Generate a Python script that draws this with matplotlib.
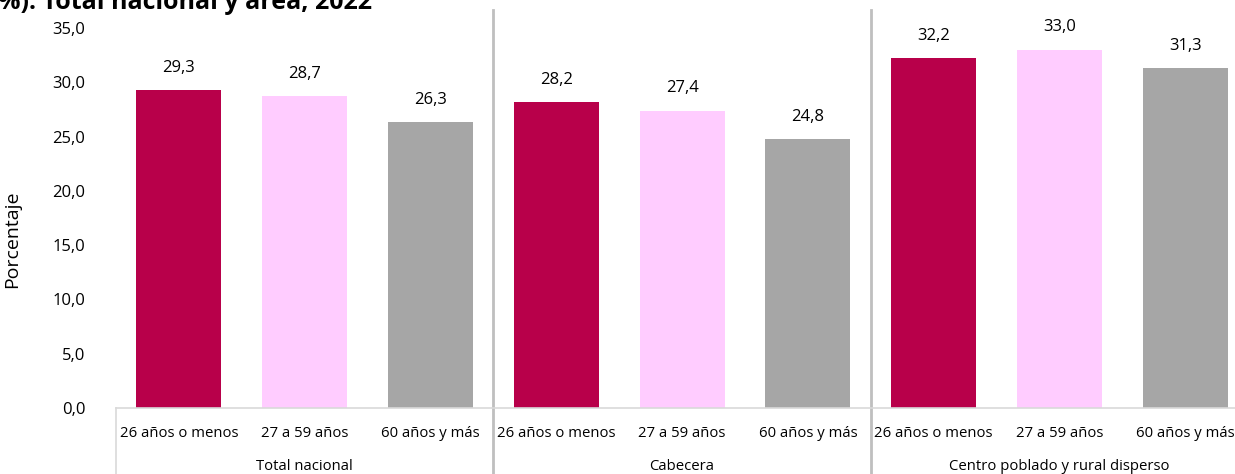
import numpy as np
import matplotlib.pyplot as plt
from matplotlib import transforms

plt.rcParams['font.family'] = ['Open Sans', 'DejaVu Sans']

# Data
groups = ['Total nacional', 'Cabecera', 'Centro poblado y rural disperso']
ages = ['26 años o menos', '27 a 59 años', '60 años y más']
total_nacional = [29.3, 28.7, 26.3]
cabecera = [28.2, 27.4, 24.8]
rural = [32.2, 33.0, 31.3]
colors = ['#B8004A', '#FFCCFF', '#A6A6A6']

values = total_nacional + cabecera + rural
labels = ages * 3
bar_colors = colors * 3

fig = plt.figure(figsize=(12.35, 4.74), dpi=100)
ax = fig.add_axes([116 / 1235, 66 / 474, 1119 / 1235, 380 / 474])

x = np.arange(len(values))
ax.bar(x, values, width=0.675, color=bar_colors)
for xi, v in zip(x, values):
    ax.annotate(f"{v:.1f}".replace('.', ','), (xi, v), xytext=(0, 16),
                textcoords='offset points', ha='center', va='center',
                fontsize=12, color='#000000')

ax.set_ylim(0, 35)
ax.set_xlim(-0.5, 8.395)
ax.set_yticks(np.arange(0, 36, 5))
ax.set_yticklabels([f"{t:.1f}".replace('.', ',') for t in np.arange(0, 36, 5)],
                   fontsize=12)
ax.set_xticks(x)
ax.set_xticklabels(labels, fontsize=10.7)
ax.tick_params(axis='both', length=0)
ax.tick_params(axis='y', pad=22)
ax.tick_params(axis='x', pad=13)

for s in ['top', 'right', 'left']:
    ax.spines[s].set_visible(False)
ax.spines['bottom'].set_color('#D9D9D9')
ax.spines['bottom'].set_linewidth(1.2)

ax.set_ylabel('Porcentaje', fontsize=14)
ax.yaxis.set_label_coords(-(116 - 21) / 1119, (408 - 239) / 380)

trans = transforms.blended_transform_factory(ax.transData, ax.transAxes)
# group separators
for sep in [2.5, 5.5]:
    ax.plot([sep, sep], [-0.18, 1.047], transform=trans, color='#BFBFBF',
            lw=2, clip_on=False)
# left box line
ax.plot([0, 0], [-0.18, 0], transform=ax.transAxes, color='#D9D9D9',
        lw=1.2, clip_on=False)

# group labels
for i, g in enumerate(groups):
    ax.text(i * 3 + 1, -(467 - 408) / 380, g, transform=trans, ha='center',
            va='center', fontsize=10.7)

# title (cut at top of the image)
fig.text(-0.002, 1 - 9 / 474, '%). Total nacional y área, 2022',
         fontsize=18, fontweight='bold', ha='left', va='baseline')

fig.savefig('out.png', dpi=100)
